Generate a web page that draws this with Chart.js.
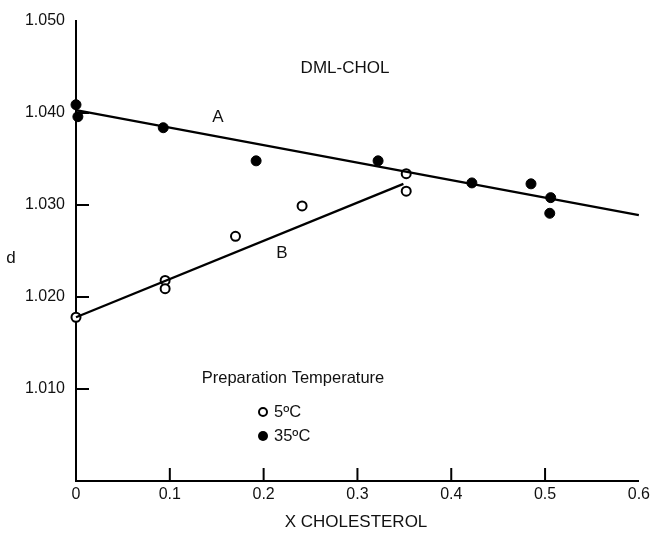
<!DOCTYPE html>
<html>
<head>
<meta charset="utf-8">
<script src="https://cdn.jsdelivr.net/npm/chart.js@4"></script>
<style>
  html, body { margin: 0; padding: 0; background: #fff; }
  #wrap { width: 654px; height: 533px; }
</style>
</head>
<body>
<div id="wrap"><canvas id="myChart" width="654" height="533"></canvas></div>
<script>
// 35 C (filled) points
const hotX = [0, 0.002, 0.093, 0.192, 0.322, 0.422, 0.485, 0.506, 0.505]
const hotY = [1.0409, 1.0396, 1.0384, 1.0348, 1.0348, 1.0324, 1.0323, 1.0308, 1.0291]
// 5 C (open) points
const coldX = [0, 0.095, 0.095, 0.170, 0.241, 0.352, 0.352]
const coldY = [1.0178, 1.0218, 1.0209, 1.0266, 1.0299, 1.0334, 1.0315]
// fitted lines
const lineAX = [0, 0.6]
const lineAY = [1.0403, 1.0289]
const lineBX = [0, 0.349]
const lineBY = [1.0178, 1.0323]
// tick labels
const xTicks = [0, 0.1, 0.2, 0.3, 0.4, 0.5, 0.6]
const yTicks = [1.010, 1.020, 1.030, 1.040, 1.050]

const FONT = '"Liberation Sans", Arial, sans-serif'
const pts = (xs, ys) => xs.map((x, i) => ({ x: x, y: ys[i] }))

// inner ticks + annotations
const extras = {
    id: 'extras',
    afterDraw(chart) {
        const c = chart.ctx
        const xs = chart.scales.x, ys = chart.scales.y
        const x0 = xs.getPixelForValue(0), y0 = ys.getPixelForValue(1.0)
        c.save()
        c.strokeStyle = '#000'
        c.lineWidth = 2
        xTicks.slice(1, -1).forEach(v => {
            const px = xs.getPixelForValue(v)
            c.beginPath(); c.moveTo(px, y0); c.lineTo(px, y0 - 13); c.stroke()
        })
        yTicks.slice(0, -1).forEach(v => {
            const py = ys.getPixelForValue(v)
            c.beginPath(); c.moveTo(x0, py); c.lineTo(x0 + 13, py); c.stroke()
        })

        c.fillStyle = '#111'
        c.textBaseline = 'middle'
        c.textAlign = 'center'
        c.font = '17px ' + FONT
        c.fillText('DML-CHOL', 345, 68)
        c.fillText('A', 218, 117)
        c.fillText('B', 282, 253)
        c.fillText('d', 11, 258)
        c.fillText('X CHOLESTEROL', 356, 522)
        c.font = '16.5px ' + FONT
        c.fillText('Preparation Temperature', 293, 378)
        c.textAlign = 'left'
        c.fillText('5ºC', 274, 412)
        c.fillText('35ºC', 274, 436)

        // legend markers
        c.beginPath(); c.arc(263, 412, 4, 0, Math.PI * 2)
        c.fillStyle = '#fff'; c.fill(); c.lineWidth = 2; c.stroke()
        c.beginPath(); c.arc(263, 436, 5, 0, Math.PI * 2)
        c.fillStyle = '#000'; c.fill()
        c.restore()
    }
}

const data = {
    datasets: [{
        type: 'line',
        data: pts(lineAX, lineAY),
        borderColor: '#000',
        borderWidth: 2.3,
        pointRadius: 0,
        fill: false
    }, {
        type: 'line',
        data: pts(lineBX, lineBY),
        borderColor: '#000',
        borderWidth: 2.3,
        pointRadius: 0,
        fill: false
    }, {
        label: '35ºC',
        data: pts(hotX, hotY),
        pointRadius: 5,
        pointBackgroundColor: '#000',
        pointBorderColor: '#000',
        pointBorderWidth: 1
    }, {
        label: '5ºC',
        data: pts(coldX, coldY),
        pointRadius: 4.5,
        pointBackgroundColor: '#fff',
        pointBorderColor: '#000',
        pointBorderWidth: 2
    }]
}

const config = {
    type: 'scatter',
    data: data,
    options: {
        responsive: false,
        animation: false,
        clip: false,
        layout: { padding: { top: 21, right: 14, left: 0, bottom: 0 } },
        plugins: {
            legend: { display: false },
            tooltip: { enabled: false }
        },
        scales: {
            x: {
                type: 'linear',
                min: 0,
                max: 0.6,
                afterFit: s => { s.height = 52 },
                afterBuildTicks: s => { s.ticks = xTicks.map(v => ({ value: v })) },
                ticks: {
                    color: '#111',
                    font: { family: FONT, size: 16 },
                    padding: 4,
                    callback: v => v === 0 ? '0' : v.toFixed(1)
                },
                grid: { display: false, drawTicks: false },
                border: { color: '#000', width: 2 }
            },
            y: {
                type: 'linear',
                min: 1.0,
                max: 1.05,
                afterFit: s => { s.width = 76 },
                afterBuildTicks: s => { s.ticks = yTicks.map(v => ({ value: v })) },
                ticks: {
                    color: '#111',
                    font: { family: FONT, size: 16 },
                    padding: 11,
                    callback: v => v.toFixed(3)
                },
                grid: { display: false, drawTicks: false },
                border: { color: '#000', width: 2 }
            }
        }
    },
    plugins: [extras]
}

const ctx = document.getElementById('myChart').getContext('2d')
new Chart(ctx, config)
</script>
</body>
</html>
